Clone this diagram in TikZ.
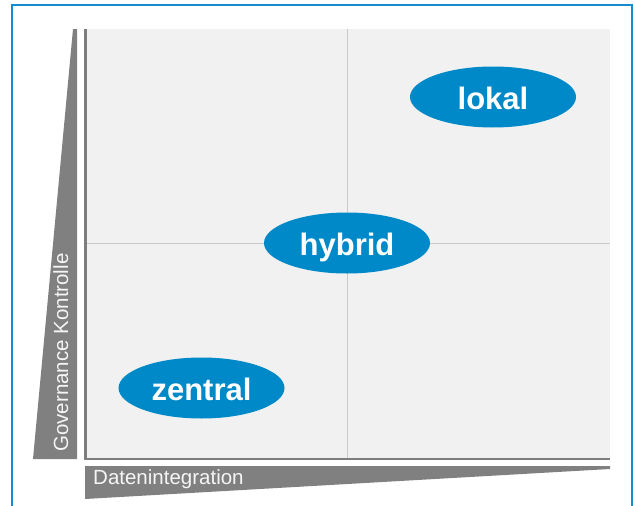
\documentclass[tikz,border=0pt]{standalone}
\usepackage{fontspec}
\setmainfont{Liberation Sans}
\usetikzlibrary{shapes.geometric}
\definecolor{frameblue}{RGB}{20,140,205}
\definecolor{bubble}{RGB}{0,137,200}
\definecolor{plotbg}{RGB}{241,241,241}
\definecolor{wedge}{RGB}{128,128,128}
\definecolor{axisline}{RGB}{125,125,125}
\definecolor{midline}{RGB}{200,200,200}
\definecolor{labeltext}{RGB}{245,245,245}
\tikzset{
  bubblenode/.style={ellipse, fill=bubble, draw=none, minimum width=166pt, minimum height=61pt,
    inner sep=0pt, text=white, font=\fontsize{31}{31}\selectfont\bfseries,
    text height=24pt, text depth=0pt},
  axislabel/.style={inner sep=0pt, text=labeltext, font=\fontsize{20.5}{20.5}\selectfont},
}
\begin{document}
\begin{tikzpicture}[x=1pt,y=-1pt]
\useasboundingbox (0,0) rectangle (635,506);
% outer frame
\begin{scope}
\clip (0,0) rectangle (635,506);
\draw[frameblue, line width=1.6pt] (12,5) rectangle (632,520);
\end{scope}
% plot area
\fill[plotbg] (86,29) rectangle (610,459);
\draw[midline, line width=1pt] (347,29) -- (347,459);
\draw[midline, line width=1pt] (86,243) -- (610,243);
\draw[axisline, line width=2.6pt] (85.5,29) -- (85.5,459) -- (610,459);
% wedges
\fill[wedge] (33,459) -- (77,459) -- (77,29) -- (73,29) -- cycle;
\fill[wedge] (85,466) -- (610,466) -- (610,469) -- (85,499) -- cycle;
% labels
\node[axislabel, anchor=base west] (xlabel) at (93,484) {Datenintegration};
\node[axislabel, anchor=base west, rotate=90] (ylabel) at (68,452) {Governance Kontrolle};
% bubbles
\node[bubblenode] (lokal) at (493,97) {lokal};
\node[bubblenode] (hybrid) at (347,243) {hybrid};
\node[bubblenode] (zentral) at (201.5,388) {zentral};
\end{tikzpicture}
\end{document}
